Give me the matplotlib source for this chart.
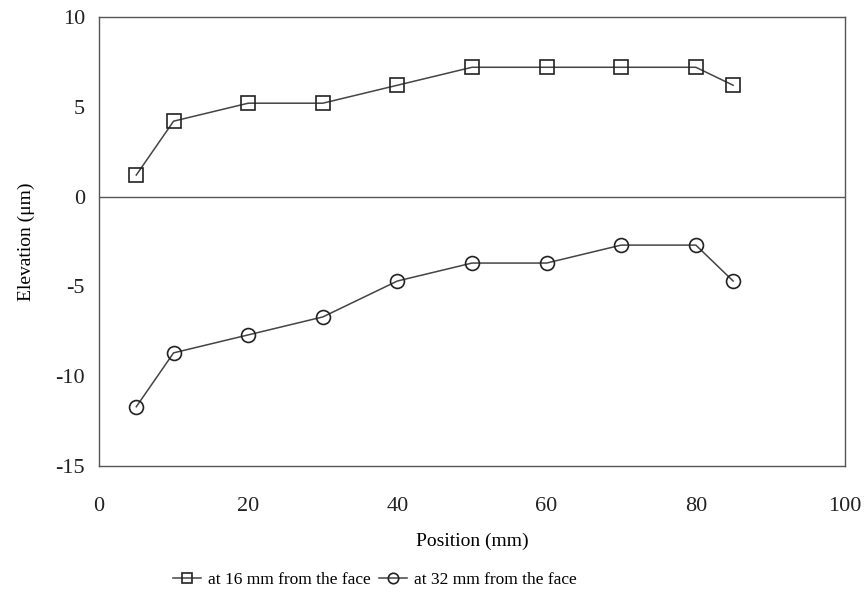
import numpy as np
import matplotlib.pyplot as plt

plt.rcParams['font.family'] = ['Liberation Serif', 'DejaVu Serif']
plt.rcParams['axes.unicode_minus'] = False

# data
position = [5, 10, 20, 30, 40, 50, 60, 70, 80, 85]
elev_16mm = [1.2, 4.2, 5.2, 5.2, 6.2, 7.2, 7.2, 7.2, 7.2, 6.2]
elev_32mm = [-11.7, -8.7, -7.7, -6.7, -4.7, -3.7, -3.7, -2.7, -2.7, -4.7]

fig = plt.figure(figsize=(8.66, 5.96), dpi=100)
ax = fig.add_axes([0.1143, 0.2181, 0.8615, 0.7534])

ax.axhline(0, color='#555555', lw=1.0, zorder=1)

ax.plot(position, elev_16mm, color='#444444', lw=1.1, marker='s', ms=10.5,
        mfc='none', mec='#222222', mew=1.2, label='at 16 mm from the face')
ax.plot(position, elev_32mm, color='#444444', lw=1.1, marker='o', ms=10,
        mfc='none', mec='#222222', mew=1.2, label='at 32 mm from the face')

ax.set_xlim(0, 100)
ax.set_ylim(-15, 10)
ax.set_xticks([0, 20, 40, 60, 80, 100])
ax.set_yticks([-15, -10, -5, 0, 5, 10])
ax.tick_params(direction='in', length=0, labelsize=16, colors='#222222')
ax.tick_params(axis='x', pad=22)
ax.tick_params(axis='y', pad=10)
for s in ax.spines.values():
    s.set_color('#555555')
    s.set_linewidth(1.0)

ax.set_xlabel('Position (mm)', fontsize=14, labelpad=12)
ax.set_ylabel('Elevation (\u03bcm)', fontsize=14, labelpad=15)

ax.legend(loc='upper center', bbox_to_anchor=(0.37, -0.2), ncol=2, frameon=False,
          fontsize=12.5, handlelength=1.6, handletextpad=0.4, columnspacing=0.5,
          markerscale=0.75)

fig.savefig('out.png', dpi=100)
